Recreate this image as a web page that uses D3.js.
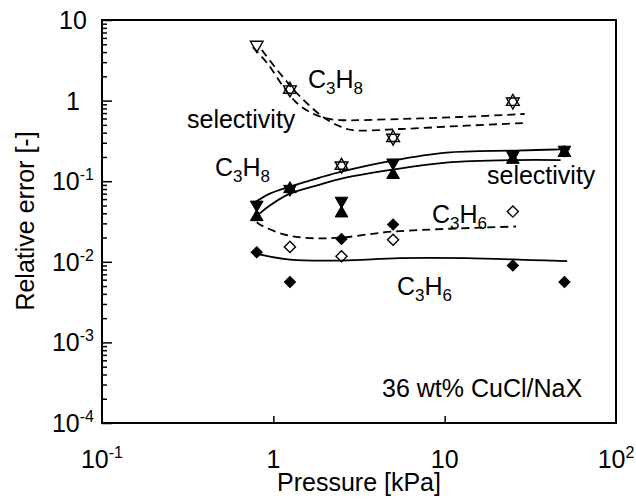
<!doctype html>
<html lang="en">
<head>
    <meta charset="utf-8"/>
    <title>Relative error vs pressure</title>
    <script src="https://d3js.org/d3.v7.min.js"></script>
    <style>
        body {
            margin: 0;
            padding: 0;
            background: #fff;
        }

        svg text {
            font-family: "Liberation Sans", Arial, sans-serif;
            fill: #000;
        }
    </style>
</head>
<body>
<script>

    // pressure points [kPa]
    const pressure = [0.8, 1.25, 2.5, 5, 25, 50];

    // measured relative errors (null = no point)
    const openDown = [4.9, 1.37, 0.156, 0.345, 0.97, null];
    const openUp = [null, 1.37, 0.156, 0.345, 0.97, null];
    const filledDown = [0.051, 0.080, 0.057, 0.17, 0.21, 0.245];
    const filledUp = [0.036, 0.080, 0.040, 0.12, 0.185, 0.225];
    const openDiamond = [null, 0.0153, 0.0117, 0.0188, 0.042, null];
    const filledDiamond = [0.0131, 0.0056, 0.0192, 0.029, 0.009, 0.0056];

    // fitted curves: [pressure, error]
    const dashUpper = [[0.759, 4.62], [0.929, 2.85], [1.136, 1.52], [1.352, 0.961], [1.632, 0.722],
        [1.996, 0.609], [2.443, 0.574], [5.465, 0.591], [12.23, 0.626], [29.3, 0.682]];
    const dashLower = [[0.857, 4.24], [1.077, 2.26], [1.352, 1.279], [1.589, 0.907], [1.917, 0.644],
        [2.345, 0.498], [2.87, 0.432], [5.465, 0.444], [12.23, 0.484], [29.3, 0.527]];
    const solidUpper = [[0.76, 0.0527], [0.954, 0.0702], [1.25, 0.0857], [1.87, 0.111], [2.5, 0.1315],
        [4.97, 0.18], [10.2, 0.226], [26.1, 0.24], [53.4, 0.25]];
    const solidLower = [[0.77, 0.0344], [0.954, 0.0498], [1.25, 0.07], [1.87, 0.0907], [2.5, 0.1076],
        [4.97, 0.139], [10.2, 0.17], [26.1, 0.183], [47.5, 0.183]];
    const dashC3H6 = [[0.8, 0.031], [0.857, 0.0281], [1.167, 0.0217], [1.63, 0.0197], [2.5, 0.02],
        [4.97, 0.0237], [26.1, 0.0274]];
    const solidC3H6 = [[0.79, 0.01265], [1.25, 0.01064], [2.5, 0.01035], [5.44, 0.0111],
        [13.4, 0.0111], [32.4, 0.0105], [51.9, 0.0102]];

    // tick labels
    const xTicks = [0.1, 1, 10, 100];
    const xTickText = [["10", "-1"], ["1", ""], ["10", ""], ["10", "2"]];
    const yTicks = [10, 1, 0.1, 0.01, 0.001, 0.0001];
    const yTickText = [["10", ""], ["1", ""], ["10", "-1"], ["10", "-2"], ["10", "-3"], ["10", "-4"]];

    const width = 636, height = 499;
    const plotL = 102, plotR = 616, plotT = 20, plotB = 423;

    const svg = d3.select("body").append("svg")
        .attr("width", width)
        .attr("height", height);

    const x = d3.scaleLog().domain([0.1, 100]).range([plotL, plotR]);
    const y = d3.scaleLog().domain([1e-4, 10]).range([plotB, plotT]);

    // minor ticks on the y axis (2..9 of each decade)
    const yMinor = [];
    for (let e = -4; e < 1; e++) {
        for (let k = 2; k <= 9; k++) yMinor.push(k * Math.pow(10, e));
    }

    svg.append("g")
        .attr("transform", `translate(${plotL},0)`)
        .call(d3.axisLeft(y).tickValues(yMinor).tickSize(-5).tickFormat(""))
        .call(g => g.select(".domain").remove())
        .selectAll("line").attr("stroke-width", 1.5);

    svg.append("g")
        .attr("transform", `translate(${plotL},0)`)
        .call(d3.axisLeft(y).tickValues(yTicks).tickSize(-10).tickFormat(""))
        .call(g => g.select(".domain").remove())
        .selectAll("line").attr("stroke-width", 1.5);

    svg.append("g")
        .attr("transform", `translate(0,${plotB})`)
        .call(d3.axisBottom(x).tickValues([1, 10]).tickSize(-7).tickFormat(""))
        .call(g => g.select(".domain").remove())
        .selectAll("line").attr("stroke-width", 1.5);

    // frame
    svg.append("rect")
        .attr("x", plotL).attr("y", plotT)
        .attr("width", plotR - plotL).attr("height", plotB - plotT)
        .attr("fill", "none").attr("stroke", "#000").attr("stroke-width", 2);

    // tick labels with superscripts
    function powText(sel, parts) {
        sel.append("tspan").text(parts[0]);
        if (parts[1]) {
            sel.append("tspan").attr("font-size", 16).attr("dy", -10).text(parts[1]);
        }
    }

    yTicks.forEach((v, i) => {
        const t = svg.append("text")
            .attr("x", 73).attr("y", y(v) + 9)
            .attr("text-anchor", "middle")
            .attr("font-size", 25);
        powText(t, yTickText[i]);
    });

    xTicks.forEach((v, i) => {
        const t = svg.append("text")
            .attr("x", x(v)).attr("y", 468)
            .attr("text-anchor", "middle")
            .attr("font-size", 25);
        powText(t, xTickText[i]);
    });

    // axis titles
    svg.append("text")
        .attr("x", (plotL + plotR) / 2).attr("y", 491)
        .attr("text-anchor", "middle")
        .attr("font-size", 25)
        .text("Pressure [kPa]");

    svg.append("text")
        .attr("transform", "translate(34,221) rotate(-90)")
        .attr("text-anchor", "middle")
        .attr("font-size", 25)
        .text("Relative error [-]");

    // fitted curves
    const line = d3.line()
        .x(d => x(d[0]))
        .y(d => y(d[1]))
        .curve(d3.curveCatmullRom.alpha(0.5));

    [
        [dashUpper, true], [dashLower, true], [dashC3H6, true],
        [solidUpper, false], [solidLower, false], [solidC3H6, false]
    ].forEach(([pts, dashed]) => {
        svg.append("path")
            .datum(pts)
            .attr("d", line)
            .attr("fill", "none")
            .attr("stroke", "#000")
            .attr("stroke-width", 1.8)
            .attr("stroke-dasharray", dashed ? "8,5" : null);
    });

    // markers
    const tri = d3.symbol().type(d3.symbolTriangle).size(70);
    const dia = d3.symbol().type(d3.symbolSquare).size(62);

    function drawMarkers(values, path, rotate, filled) {
        const pts = pressure.map((p, i) => [p, values[i]]).filter(d => d[1] != null);
        svg.append("g").selectAll("path")
            .data(pts)
            .join("path")
            .attr("d", path)
            .attr("transform", d => `translate(${x(d[0])},${y(d[1])}) rotate(${rotate})`)
            .attr("fill", filled ? "#000" : "#fff")
            .attr("fill-opacity", filled ? 1 : 0)
            .attr("stroke", "#000")
            .attr("stroke-width", filled ? 1 : 1.4);
    }

    drawMarkers(openDiamond, dia, 45, false);
    drawMarkers(filledDiamond, dia, 45, true);
    drawMarkers(filledDown, tri, 180, true);
    drawMarkers(filledUp, tri, 0, true);
    drawMarkers(openDown, tri, 180, false);
    drawMarkers(openUp, tri, 0, false);

    // curve labels
    function chem(xp, yp, a, n1, b, n2) {
        const t = svg.append("text").attr("x", xp).attr("y", yp).attr("font-size", 25);
        t.append("tspan").text(a);
        t.append("tspan").attr("font-size", 17).attr("dy", 6).text(n1);
        t.append("tspan").attr("dy", -6).text(b);
        t.append("tspan").attr("font-size", 17).attr("dy", 6).text(n2);
    }

    chem(308, 88, "C", "3", "H", "8");
    chem(215, 176, "C", "3", "H", "8");
    chem(432, 223, "C", "3", "H", "6");
    chem(397, 295, "C", "3", "H", "6");

    svg.append("text").attr("x", 187).attr("y", 128).attr("font-size", 25).text("selectivity");
    svg.append("text").attr("x", 487).attr("y", 184).attr("font-size", 25).text("selectivity");
    svg.append("text").attr("x", 382).attr("y", 397).attr("font-size", 25).text("36 wt% CuCl/NaX");

</script>
</body>
</html>
